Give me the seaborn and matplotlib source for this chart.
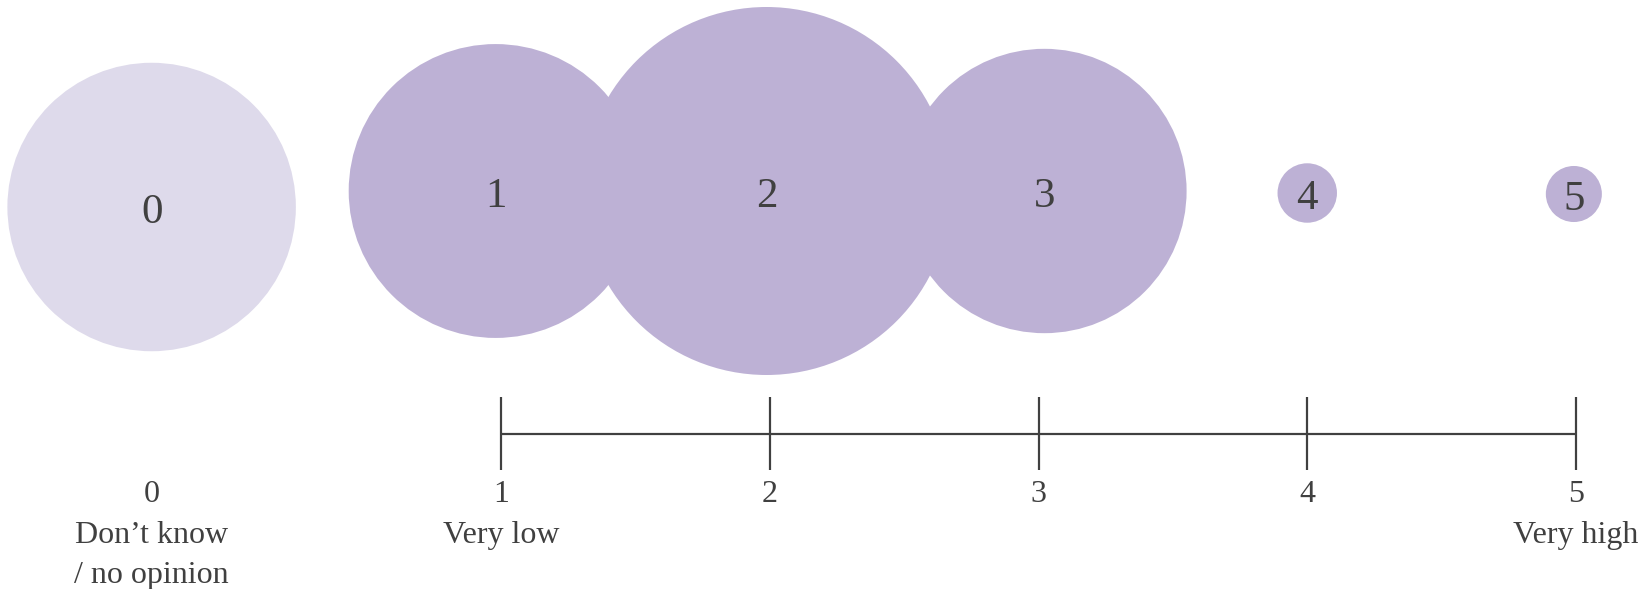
import pandas as pd
import matplotlib.pyplot as plt
import seaborn as srn

# -------------------------------
# Dados (percentual de respostas por nivel)
# -------------------------------
niveis = [0, 1, 2, 3, 4, 5]
percentuais = [21.2, 22.0, 34.5, 20.6, 0.9, 0.8]
rotulos = ["0\nDon\u2019t know\n/ no opinion", "1\nVery low", "2", "3", "4", "5\nVery high"]
grupo = ["sem opiniao", "escala", "escala", "escala", "escala", "escala"]

# -------------------------------
# Layout
# -------------------------------
W, H, DPI = 1647, 589, 100
PX_UNID = 268.75          # pixels por unidade da escala
X_UM = 501                # pixel da marca "1"
pos_zero = -0.3           # "nao sei" fica fora da escala
ajuste = {1: -0.02, 2: -0.012, 3: 0.022, 5: -0.008}
y_bolha = {0: 207, 4: 193, 5: 194}
y_eixo = 434
r_max_px = 184

cor_texto = "#404040"
cores = {"sem opiniao": "#dedaeb", "escala": "#bdb1d5"}

def px_para_unid(px):
    return 1 + (px - X_UM) / PX_UNID

x_pos = [(pos_zero if n == 0 else n) + ajuste.get(n, 0) for n in niveis]
y_pos = [y_bolha.get(n, 191) for n in niveis]

bolhas = pd.DataFrame({"x": x_pos, "y": y_pos, "pct": percentuais, "grupo": grupo})

srn.set_style("white")
plt.rcParams["font.family"] = ["Liberation Serif", "DejaVu Serif"]

fig = plt.figure(figsize=(W / DPI, H / DPI), dpi=DPI)
ax = fig.add_axes([0, 0, 1, 1])

# area proporcional ao percentual
s_max = (2 * r_max_px * 72 / DPI) ** 2
srn.scatterplot(data=bolhas, x="x", y="y", size="pct", hue="grupo", palette=cores,
                sizes=(0, s_max), size_norm=(0, max(percentuais)),
                linewidth=0, alpha=1, legend=False, ax=ax, zorder=2)

for xi, yi, n in zip(x_pos, y_pos, niveis):
    ax.text(xi, yi + 6, str(n), ha="center", va="center", fontsize=31, color=cor_texto, zorder=3)

# -------------------------------
# Escala 1..5
# -------------------------------
lw = 2.2 * 72 / DPI
escala = [n for n in niveis if n > 0]
ax.plot([min(escala), max(escala)], [y_eixo, y_eixo], color=cor_texto, lw=lw, solid_capstyle="butt")
ax.vlines(escala, y_eixo - 37, y_eixo + 36, color=cor_texto, lw=lw)

x_rot = [pos_zero] + escala
for xi, txt in zip(x_rot, rotulos):
    ax.text(xi, 480.5, txt, ha="center", va="top", fontsize=23, color=cor_texto, linespacing=1.52)

ax.set_xlim(px_para_unid(0), px_para_unid(W))
ax.set_ylim(H, 0)
ax.axis("off")

fig.savefig("out.png", dpi=DPI)
